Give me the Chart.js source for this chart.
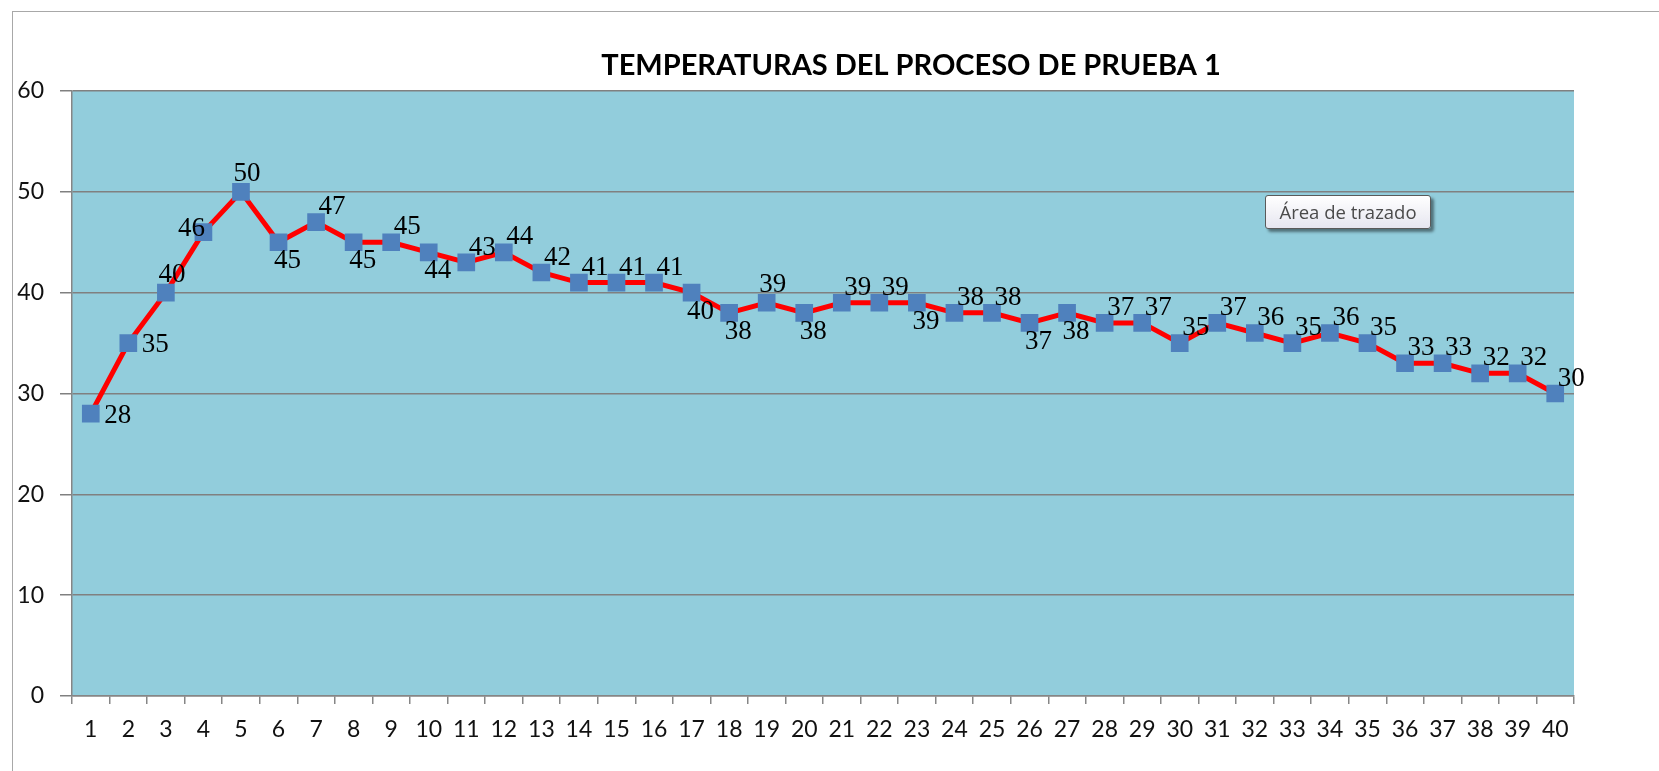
<!DOCTYPE html>
<html>
<head>
<meta charset="utf-8">
<script src="https://cdn.jsdelivr.net/npm/chart.js@4.4.1/dist/chart.umd.min.js"></script>
<style>
  html, body { margin: 0; padding: 0; background: #fff; }
  #wrap { position: relative; width: 1659px; height: 771px; overflow: hidden; }
  #frame { position: absolute; left: 12px; top: 11px; right: 0; bottom: 0;
           border-left: 1px solid #a8a8a8; border-top: 1px solid #a8a8a8; }
  canvas { position: absolute; left: 0; top: 0; }
  #hint { position: absolute; left: 1265px; top: 195px; width: 164px; height: 32px;
          border: 1px solid #5a5a5a; border-radius: 3px;
          background: linear-gradient(#ffffff, #e6e6f0);
          box-shadow: 3px 3px 3px rgba(0,0,0,0.45);
          font: 18.5px "Open Sans", sans-serif; color: #4a4a4a;
          line-height: 32px; text-align: center; }
</style>
</head>
<body>
<div id="wrap">
  <div id="frame"></div>
  <canvas id="chart" width="1659" height="771"></canvas>
  <div id="hint">Área de trazado</div>
</div>
<script>
const categories = ['1', '2', '3', '4', '5', '6', '7', '8', '9', '10',
    '11', '12', '13', '14', '15', '16', '17', '18', '19', '20',
    '21', '22', '23', '24', '25', '26', '27', '28', '29', '30',
    '31', '32', '33', '34', '35', '36', '37', '38', '39', '40'];
const temperatures = [28, 35, 40, 46, 50, 45, 47, 45, 45, 44,
    43, 44, 42, 41, 41, 41, 40, 38, 39, 38,
    39, 39, 39, 38, 38, 37, 38, 37, 37, 35,
    37, 36, 35, 36, 35, 33, 33, 32, 32, 30];
const yTicks = [0, 10, 20, 30, 40, 50, 60];
const chartTitle = 'TEMPERATURAS DEL PROCESO DE PRUEBA 1';

// where each data label sits relative to its marker
const placement = ['r', 'r', 'a', 'l', 'a', 'b', 'ar', 'b', 'ar', 'b',
    'ar', 'ar', 'ar', 'ar', 'ar', 'ar', 'b', 'b', 'a', 'b',
    'ar', 'ar', 'b', 'ar', 'ar', 'b', 'b', 'ar', 'ar', 'ar',
    'ar', 'ar', 'ar', 'ar', 'ar', 'ar', 'ar', 'ar', 'ar', 'ar'];
const offsets = { r: [27, 2], a: [6, -18], l: [-12, -3], b: [9, 19], ar: [16, -15] };

const plotBg = {
    id: 'plotBg',
    beforeDraw(chart) {
        const { ctx, chartArea: a } = chart;
        ctx.save();
        ctx.fillStyle = '#92cddc';
        ctx.fillRect(a.left, a.top, a.right - a.left, a.bottom - a.top);
        ctx.restore();
    }
};

const pointLabels = {
    id: 'pointLabels',
    afterDatasetsDraw(chart) {
        const ctx = chart.ctx;
        const meta = chart.getDatasetMeta(0);
        ctx.save();
        ctx.font = '27px "Liberation Serif"';
        ctx.fillStyle = '#000';
        ctx.textAlign = 'center';
        ctx.textBaseline = 'middle';
        meta.data.forEach((pt, i) => {
            const o = offsets[placement[i]];
            ctx.fillText(String(temperatures[i]), pt.x + o[0], pt.y + o[1]);
        });
        ctx.restore();
    }
};

const titleText = {
    id: 'titleText',
    afterDraw(chart) {
        const ctx = chart.ctx;
        ctx.save();
        ctx.font = 'bold 29px Lato';
        ctx.fillStyle = '#000';
        ctx.textAlign = 'center';
        ctx.textBaseline = 'middle';
        ctx.fillText(chartTitle, 911, 66);
        ctx.restore();
    }
};

new Chart(document.getElementById('chart'), {
    type: 'line',
    data: {
        labels: categories,
        datasets: [{
            data: temperatures,
            borderColor: '#ff0000',
            borderWidth: 5,
            tension: 0,
            pointStyle: 'rect',
            pointRadius: 12.5,
            pointHoverRadius: 12.5,
            pointBackgroundColor: '#4f81bd',
            pointBorderWidth: 0
        }]
    },
    options: {
        responsive: false,
        animation: false,
        events: [],
        layout: { padding: { top: 91, right: 85, left: 0, bottom: 0 } },
        plugins: {
            legend: { display: false },
            tooltip: { enabled: false },
            title: { display: false }
        },
        scales: {
            x: {
                offset: true,
                afterFit(scale) { scale.height = 75; },
                grid: {
                    offset: true,
                    drawOnChartArea: false,
                    drawTicks: true,
                    tickLength: 8,
                    color: '#868686',
                    lineWidth: 1.5
                },
                border: { color: '#868686', width: 1.5 },
                ticks: {
                    autoSkip: false,
                    maxRotation: 0,
                    padding: 12,
                    color: '#111',
                    font: { family: 'Lato', size: 23 }
                }
            },
            y: {
                min: 0,
                max: 60,
                afterFit(scale) { scale.width = 72; },
                afterBuildTicks(scale) { scale.ticks = yTicks.map(v => ({ value: v })); },
                grid: {
                    color: '#808080',
                    lineWidth: 1.5,
                    tickLength: 12
                },
                border: { color: '#868686', width: 1.5 },
                ticks: {
                    padding: 16,
                    color: '#111',
                    font: { family: 'Lato', size: 23 }
                }
            }
        }
    },
    plugins: [plotBg, pointLabels, titleText]
});
</script>
</body>
</html>
